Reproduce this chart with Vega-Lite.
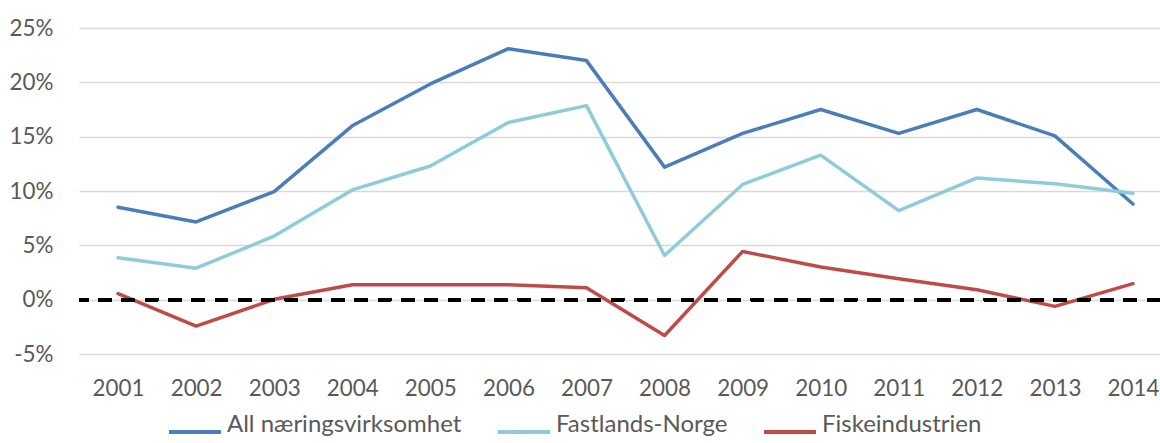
{
  "$schema": "https://vega.github.io/schema/vega-lite/v6.json",
  "autosize": {"type": "none"},
  "padding": {"left": 79, "top": 28, "right": 0, "bottom": 89},
  "width": 1081,
  "height": 326,
  "background": "white",
  "config": {
    "view": {"stroke": null},
    "font": "Lato",
    "axis": {"labelFont": "Lato", "labelFontSize": 22.4, "labelColor": "#595959", "ticks": false, "domain": false},
    "legend": {"labelFont": "Lato", "labelFontSize": 24, "labelColor": "#595959", "labelLimit": 0}
  },
  "data": {
    "values": [
      {"year": 2001, "series": "All næringsvirksomhet", "value": 8.5},
      {"year": 2002, "series": "All næringsvirksomhet", "value": 7.15},
      {"year": 2003, "series": "All næringsvirksomhet", "value": 9.95},
      {"year": 2004, "series": "All næringsvirksomhet", "value": 16.0},
      {"year": 2005, "series": "All næringsvirksomhet", "value": 19.85},
      {"year": 2006, "series": "All næringsvirksomhet", "value": 23.1},
      {"year": 2007, "series": "All næringsvirksomhet", "value": 22.0},
      {"year": 2008, "series": "All næringsvirksomhet", "value": 12.2},
      {"year": 2009, "series": "All næringsvirksomhet", "value": 15.3},
      {"year": 2010, "series": "All næringsvirksomhet", "value": 17.5},
      {"year": 2011, "series": "All næringsvirksomhet", "value": 15.3},
      {"year": 2012, "series": "All næringsvirksomhet", "value": 17.5},
      {"year": 2013, "series": "All næringsvirksomhet", "value": 15.07},
      {"year": 2014, "series": "All næringsvirksomhet", "value": 8.8},
      {"year": 2001, "series": "Fastlands-Norge", "value": 3.86},
      {"year": 2002, "series": "Fastlands-Norge", "value": 2.9},
      {"year": 2003, "series": "Fastlands-Norge", "value": 5.85},
      {"year": 2004, "series": "Fastlands-Norge", "value": 10.1},
      {"year": 2005, "series": "Fastlands-Norge", "value": 12.3},
      {"year": 2006, "series": "Fastlands-Norge", "value": 16.3},
      {"year": 2007, "series": "Fastlands-Norge", "value": 17.86},
      {"year": 2008, "series": "Fastlands-Norge", "value": 4.07},
      {"year": 2009, "series": "Fastlands-Norge", "value": 10.6},
      {"year": 2010, "series": "Fastlands-Norge", "value": 13.3},
      {"year": 2011, "series": "Fastlands-Norge", "value": 8.2},
      {"year": 2012, "series": "Fastlands-Norge", "value": 11.2},
      {"year": 2013, "series": "Fastlands-Norge", "value": 10.66},
      {"year": 2014, "series": "Fastlands-Norge", "value": 9.8},
      {"year": 2001, "series": "Fiskeindustrien", "value": 0.55},
      {"year": 2002, "series": "Fiskeindustrien", "value": -2.43},
      {"year": 2003, "series": "Fiskeindustrien", "value": 0.03},
      {"year": 2004, "series": "Fiskeindustrien", "value": 1.38},
      {"year": 2005, "series": "Fiskeindustrien", "value": 1.38},
      {"year": 2006, "series": "Fiskeindustrien", "value": 1.38},
      {"year": 2007, "series": "Fiskeindustrien", "value": 1.1},
      {"year": 2008, "series": "Fiskeindustrien", "value": -3.3},
      {"year": 2009, "series": "Fiskeindustrien", "value": 4.44},
      {"year": 2010, "series": "Fiskeindustrien", "value": 3.0},
      {"year": 2011, "series": "Fiskeindustrien", "value": 1.93},
      {"year": 2012, "series": "Fiskeindustrien", "value": 0.92},
      {"year": 2013, "series": "Fiskeindustrien", "value": -0.62},
      {"year": 2014, "series": "Fiskeindustrien", "value": 1.47}
    ]
  },
  "layer": [
    {
      "mark": {"type": "line", "strokeWidth": 3.5, "strokeCap": "round", "strokeJoin": "round"},
      "encoding": {
        "x": {
          "field": "year", "type": "quantitative",
          "scale": {"domain": [2000.5, 2014.346], "nice": false, "zero": false},
          "axis": {
            "title": null, "labelAngle": 0, "labelPadding": 23, "grid": false,
            "values": [2001, 2002, 2003, 2004, 2005, 2006, 2007, 2008, 2009, 2010, 2011, 2012, 2013, 2014],
            "format": "d", "labelFlush": false, "labelOverlap": false
          }
        },
        "y": {
          "field": "value", "type": "quantitative",
          "scale": {"domain": [-5, 25], "nice": false, "zero": false},
          "axis": {
            "title": null, "values": [-5, 0, 5, 10, 15, 20, 25],
            "labelExpr": "datum.value + '%'", "labelPadding": 26,
            "grid": true, "gridColor": "#d9d9d9", "gridWidth": 1.5
          }
        },
        "color": {
          "field": "series", "type": "nominal",
          "scale": {
            "domain": ["All næringsvirksomhet", "Fastlands-Norge", "Fiskeindustrien"],
            "range": ["#4a7ebb", "#8ecbdb", "#be4b48"]
          },
          "legend": {
            "title": null, "orient": "none", "direction": "horizontal",
            "legendX": 88, "legendY": 376, "padding": 0,
            "symbolType": "stroke", "symbolSize": 2704, "symbolStrokeWidth": 4,
            "labelOffset": 4, "columnPadding": 28, "labelBaseline": "alphabetic",
            "labelLimit": 0, "labelFontSize": 24
          }
        }
      }
    },
    {
      "mark": {"type": "rule", "color": "#000000", "strokeWidth": 3, "strokeDash": [13, 10.3]},
      "encoding": {"y": {"datum": 0}}
    }
  ]
}
